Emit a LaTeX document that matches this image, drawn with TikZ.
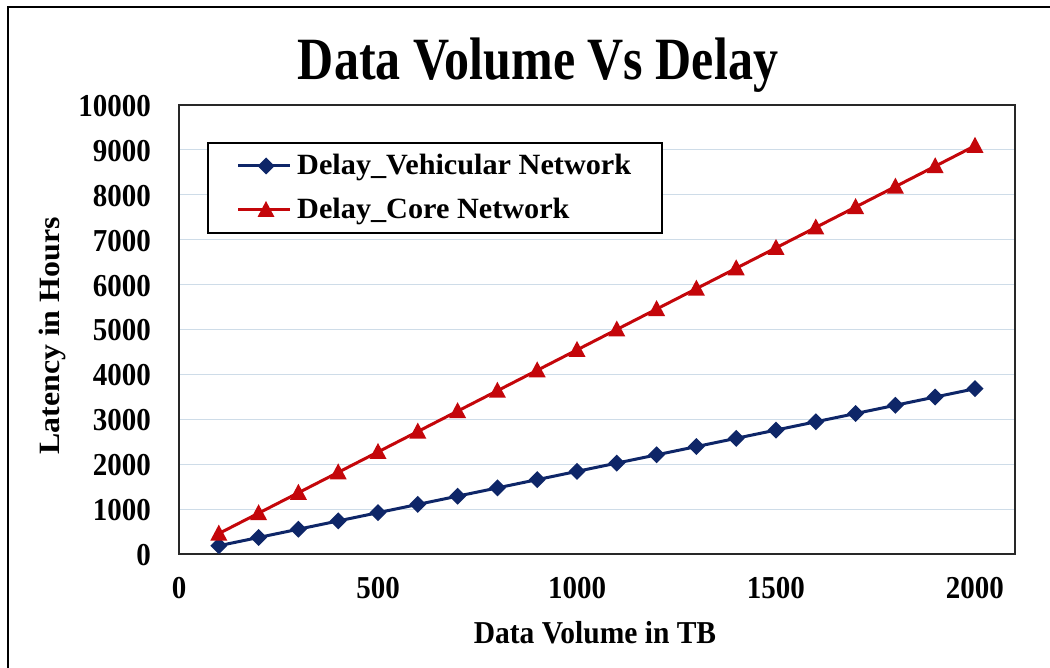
\documentclass[tikz,border=0pt]{standalone}
\usepackage{fontspec}
\setmainfont{Liberation Serif}
\definecolor{vehblue}{RGB}{14,38,104}
\definecolor{corered}{RGB}{196,6,10}
\definecolor{gridcol}{RGB}{206,220,232}
\definecolor{framecol}{RGB}{40,40,40}
\begin{document}
\begin{tikzpicture}[x=1pt,y=-1pt,
  ticklab/.style={font=\bfseries\fontsize{29}{29}\selectfont, yscale=1.1, inner sep=0pt},
  axlab/.style={font=\bfseries\fontsize{29.5}{29.5}\selectfont, yscale=1.08, inner sep=0pt},
  legtext/.style={font=\bfseries\fontsize{28}{28}\selectfont, xscale=1.08, yscale=1.05, inner sep=0pt, anchor=base west},
  gridline/.style={gridcol, line width=1.2pt},
  vehline/.style={vehblue, line width=3pt},
  coreline/.style={corered, line width=3pt},
  vehmark/.style={fill=vehblue},
  coremark/.style={fill=corered}]
\useasboundingbox (0,0) rectangle (1050,668);
\fill[white] (0,0) rectangle (1050,668);
% outer chart frame (left and top edges)
\draw[black, line width=2pt] (8,668) -- (8,7) -- (1050,7);

% title
\node[font=\bfseries\fontsize{50}{50}\selectfont, yscale=1.2, inner sep=0pt] (title) at (538,65) {Data Volume Vs Delay};

% horizontal grid lines every 1000
\foreach \v in {1,...,9} {
  \pgfmathsetmacro{\yy}{554-\v*44.9}
  \draw[gridline] (179,\yy) -- (1015,\yy);
}
% y tick labels
\foreach \v/\lab in {0/0,1/1000,2/2000,3/3000,4/4000,5/5000,6/6000,7/7000,8/8000,9/9000,10/10000} {
  \pgfmathsetmacro{\yy}{555-\v*44.9}
  \node[ticklab, anchor=east] (ytick\v) at (151,\yy) {\lab};
}
% x tick labels
\foreach \v in {0,500,1000,1500,2000} {
  \pgfmathsetmacro{\xx}{179+\v*0.398}
  \node[ticklab] (xtick\v) at (\xx,588) {\v};
}

% plot frame
\draw[framecol, line width=2pt] (179,105) rectangle (1015,554);

% series lines
\draw[coreline] (179+100*0.398, 554-455*0.0449) -- (179+2000*0.398, 554-9090*0.0449);
\draw[vehline] (179+100*0.398, 554-184*0.0449) -- (179+2000*0.398, 554-3680*0.0449);

% markers
\foreach \i in {1,...,20} {
  \pgfmathsetmacro{\xx}{179+\i*100*0.398}
  \pgfmathsetmacro{\yv}{554-\i*184*0.0449}
  \pgfmathsetmacro{\yc}{554-\i*454.5*0.0449}
  \fill[vehmark] (\xx-8.5,\yv) -- (\xx,\yv-8.5) -- (\xx+8.5,\yv) -- (\xx,\yv+8.5) -- cycle;
  \fill[coremark] (\xx-8.5,\yc+7) -- (\xx,\yc-9) -- (\xx+8.5,\yc+7) -- cycle;
}

% legend
\draw[black, line width=1.5pt, fill=white] (208,143) rectangle (662,233);
\draw[vehline] (238,166) -- (290,166);
\fill[vehmark] (257.5,166) -- (266,157.5) -- (274.5,166) -- (266,174.5) -- cycle;
\node[legtext] (legveh) at (297,175) {Delay\_Vehicular Network};
\draw[coreline] (238,210) -- (290,210);
\fill[coremark] (257.5,217) -- (266,201) -- (274.5,217) -- cycle;
\node[legtext] (legcore) at (297,219) {Delay\_Core Network};

% axis titles
\node[axlab] (xlab) at (595,633) {Data Volume in TB};
\node[axlab, rotate=90] (ylab) at (52,336) {Latency in Hours};
\end{tikzpicture}
\end{document}
